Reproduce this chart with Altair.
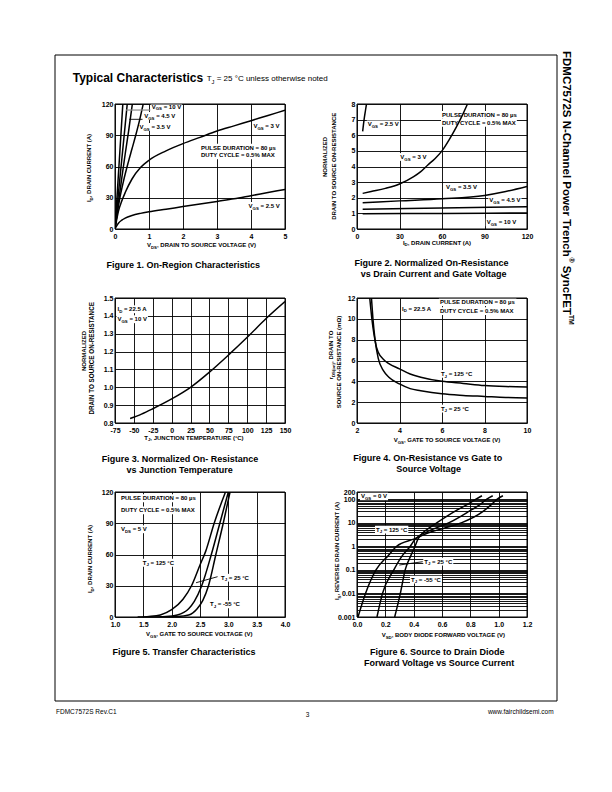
import altair as alt
import pandas as pd

FONT = "Liberation Sans"
PW, PH = 170, 125

# ---------------- Figure 1: On-Region Characteristics (VDS V, ID A) ----------------
f1_vgs10_v = [0, 0.05, 0.10, 0.15, 0.23]
f1_vgs10_i = [0, 26, 52, 78, 120]
f1_vgs6_v = [0, 0.10, 0.20, 0.30, 0.36]
f1_vgs6_i = [0, 34, 67, 100, 120]
f1_vgs45_v = [0, 0.10, 0.20, 0.30, 0.40, 0.51]
f1_vgs45_i = [0, 25, 49, 72, 94, 120]
f1_vgs35_v = [0, 0.05, 0.10, 0.15, 0.25, 0.39, 0.50, 0.61, 0.72, 0.83]
f1_vgs35_i = [0, 12, 22, 31, 46, 64, 77, 90, 104, 120]
f1_vgs3_v = [0, 0.05, 0.1, 0.2, 0.3, 0.5, 0.75, 1, 1.5, 2, 2.5, 3, 3.5, 4, 4.5, 5]
f1_vgs3_i = [0, 9, 17, 27, 35, 48, 59, 66, 75, 82, 88, 94, 99, 104, 109, 114]
f1_vgs25_v = [0, 0.05, 0.1, 0.2, 0.3, 0.5, 0.75, 1, 1.5, 2, 2.5, 3, 3.5, 4, 4.5, 5]
f1_vgs25_i = [0, 3, 5.5, 8.5, 10.5, 13, 15, 16.5, 19, 21.5, 24, 26.5, 29, 32, 35, 38]

# ---------------- Figure 2: Normalized RDS(on) vs ID ----------------
f2_vgs25_i = [4, 5, 6, 6.7]
f2_vgs25_r = [6.25, 7.0, 7.6, 8.0]
f2_vgs3_i = [4, 10, 20, 30, 40, 45, 50, 55, 60, 65, 70, 75, 78]
f2_vgs3_r = [2.28, 2.4, 2.6, 2.88, 3.35, 3.67, 4.1, 4.5, 5.0, 5.7, 6.5, 7.4, 8.0]
f2_vgs35_i = [4, 30, 60, 90, 105, 120]
f2_vgs35_r = [1.68, 1.8, 1.93, 2.15, 2.4, 2.72]
f2_vgs45_i = [4, 60, 120]
f2_vgs45_r = [1.27, 1.34, 1.42]
f2_vgs10_i = [4, 60, 120]
f2_vgs10_r = [0.98, 1.0, 1.03]

# ---------------- Figure 3: Normalized RDS(on) vs TJ ----------------
f3_tj = [-55, -40, -25, 0, 25, 50, 75, 100, 125, 150]
f3_r = [0.825, 0.85, 0.88, 0.935, 1.0, 1.085, 1.18, 1.28, 1.385, 1.48]

# ---------------- Figure 4: rDS(on) vs VGS (mOhm) ----------------
f4_t125_v = [2.6, 2.7, 2.8, 2.9, 3.0, 3.25, 3.5, 4, 4.5, 5, 6, 7, 8, 9, 10]
f4_t125_r = [12, 10, 8.5, 7.4, 6.8, 6.1, 5.7, 5.2, 4.7, 4.4, 4.0, 3.8, 3.6, 3.5, 3.45]
f4_t25_v = [2.68, 2.75, 2.85, 3.0, 3.25, 3.5, 4, 4.5, 5, 6, 7, 8, 9, 10]
f4_t25_r = [12, 10, 8, 6.2, 5.0, 4.4, 3.75, 3.3, 3.1, 2.8, 2.65, 2.55, 2.45, 2.4]

# ---------------- Figure 5: Transfer characteristics ----------------
f5_t125_v = [1.4, 1.6, 1.8, 2.0, 2.2, 2.35, 2.5, 2.6, 2.75, 2.95]
f5_t125_i = [0, 0.5, 2, 7, 17, 30, 50, 63, 90, 120]
f5_t25_v = [1.6, 1.9, 2.1, 2.3, 2.4, 2.53, 2.7, 2.85, 3.0]
f5_t25_i = [0, 0.5, 2, 8, 15, 30, 60, 90, 120]
f5_tm55_v = [1.8, 2.1, 2.3, 2.45, 2.55, 2.65, 2.78, 2.91, 3.03]
f5_tm55_i = [0, 0.5, 2, 8, 16, 30, 60, 90, 120]

# ---------------- Figure 6: Source to drain diode ----------------
f6_t125_v = [0.007, 0.06, 0.134, 0.22, 0.28, 0.40, 0.52, 0.62, 0.74, 0.89, 0.95, 0.99, 1.03]
f6_t125_i = [0.001, 0.01, 0.1, 0.4, 1, 2, 4, 6, 10, 30, 60, 100, 139]
f6_t25_v = [0.141, 0.18, 0.26, 0.32, 0.376, 0.41, 0.49, 0.56, 0.65, 0.79, 0.87, 0.916, 0.958]
f6_t25_i = [0.001, 0.01, 0.1, 0.4, 1, 2, 4, 6, 10, 30, 60, 100, 139]
f6_tm55_v = [0.266, 0.306, 0.34, 0.38, 0.41, 0.43, 0.47, 0.51, 0.565, 0.69, 0.78, 0.84, 0.882]
f6_tm55_i = [0.001, 0.01, 0.1, 0.4, 1, 2, 4, 6, 10, 30, 60, 100, 139]

# ---------------- tick values ----------------
f1_xticks = [0, 1, 2, 3, 4, 5]
f1_yticks = [0, 30, 60, 90, 120]
f2_xticks = [0, 30, 60, 90, 120]
f2_yticks = [0, 1, 2, 3, 4, 5, 6, 7, 8]
f3_xticks = [-75, -50, -25, 0, 25, 50, 75, 100, 125, 150]
f3_yticks = [0.8, 0.9, 1.0, 1.1, 1.2, 1.3, 1.4, 1.5]
f4_xticks = [2, 4, 6, 8, 10]
f4_yticks = [0, 2, 4, 6, 8, 10, 12]
f5_xticks = [1.0, 1.5, 2.0, 2.5, 3.0, 3.5, 4.0]
f5_yticks = [0, 30, 60, 90, 120]
f6_xticks = [0.0, 0.2, 0.4, 0.6, 0.8, 1.0, 1.2]
f6_ylabels = [0.001, 0.01, 0.1, 1, 10, 100, 200]
f6_ygrid = [round(m * 10.0 ** e, 6) for e in range(-3, 2) for m in range(1, 10)] + [100, 200]

# ---------------- text helpers ----------------
BOLD_W = {' ': 278, '!': 333, '%': 889, '(': 333, ')': 333, ',': 278, '-': 333, '.': 278,
          '/': 278, '=': 584, '°': 400, 'µ': 611, 'Ω': 768, '®': 737, '™': 1000}
for c in "0123456789":
    BOLD_W[c] = 556
BOLD_W.update(dict(zip("ABCDEFGHIJKLMNOPQRSTUVWXYZ",
                       [722, 722, 722, 722, 667, 611, 778, 722, 278, 556, 722, 611, 833, 722, 778,
                        667, 778, 722, 667, 611, 722, 667, 944, 667, 667, 611])))
BOLD_W.update(dict(zip("abcdefghijklmnopqrstuvwxyz",
                       [556, 611, 556, 611, 556, 333, 611, 611, 278, 278, 556, 278, 889, 611, 611,
                        611, 611, 389, 556, 333, 611, 556, 778, 556, 556, 500])))
REG_W = {' ': 278, '%': 889, '(': 333, ')': 333, ',': 278, '-': 333, '.': 278, '/': 278,
         '=': 584, '°': 400, 'µ': 556}
for c in "0123456789":
    REG_W[c] = 556
REG_W.update(dict(zip("ABCDEFGHIJKLMNOPQRSTUVWXYZ",
                      [667, 667, 722, 722, 667, 611, 778, 722, 278, 500, 667, 556, 833, 722, 778,
                       667, 778, 722, 667, 611, 722, 667, 944, 667, 667, 611])))
REG_W.update(dict(zip("abcdefghijklmnopqrstuvwxyz",
                      [556, 556, 500, 556, 556, 278, 556, 556, 222, 222, 500, 222, 833, 556, 556,
                       556, 556, 333, 500, 278, 556, 500, 722, 500, 500, 500])))

ONE = pd.DataFrame({"k": [0]})


def text_width(s, size, bold=True):
    table = BOLD_W if bold else REG_W
    return sum(table.get(c, 600) for c in s) / 1000.0 * size


def seg_layers(segs, x, y, size=6.0, anchor="left", angle=0, bold=True, box=False, pad=1.0):
    """Return (box_layers, text_layers) for a rich label made of segments.
    segs: list of (text, mode) with mode 'n' (normal), 'sub' or 'sup'."""
    items = []
    for t, m in segs:
        s = size if m == "n" else round(size * (0.72 if m == "sub" else 0.6), 2)
        items.append((t, m, s, text_width(t, s, bold)))
    total = sum(it[3] for it in items)
    start = {"left": 0.0, "center": -total / 2.0, "right": -total}[anchor]
    boxes, texts = [], []
    if box:
        h = size * 1.3
        boxes.append(
            alt.Chart(ONE).mark_rect(color="white", xOffset=round(start - pad, 2),
                                     x2Offset=round(start + total + pad, 2),
                                     yOffset=round(-h / 2, 2), y2Offset=round(h / 2, 2))
            .encode(x=dict(x), x2=dict(x), y=dict(y), y2=dict(y)))
    cur = start
    for t, m, s, w in items:
        stripped = t.lstrip(" ")
        lead = text_width(t[:len(t) - len(stripped)], s, bold)
        txt = stripped.rstrip(" ")
        if txt:
            if m == "n":
                dy = 0.0
            elif m == "sub":
                dy = size * 0.45
            else:
                dy = -size * 0.45
            texts.append(
                alt.Chart(ONE).mark_text(text=txt, align="left", baseline="middle",
                                         dx=round(cur + lead, 2), dy=round(dy, 2), fontSize=s,
                                         font=FONT, fontWeight="bold" if bold else "normal",
                                         angle=angle, color="black")
                .encode(x=dict(x), y=dict(y)))
        cur += w
    return boxes, texts


def VGS(v):
    return [("V", "n"), ("GS", "sub"), (" = " + v, "n")]


def TJ(v):
    return [("T", "n"), ("J", "sub"), (" = " + v, "n")]


def D(v):
    return alt.datum(v)


def P(v):
    return alt.value(v)


def lines_layer(series, xdom, ydom, xaxis, yaxis, ylog=False):
    rows = []
    for name, (xs, ys) in series.items():
        for a, b in zip(xs, ys):
            rows.append({"s": name, "x": a, "y": b})
    df = pd.DataFrame(rows)
    if ylog:
        ysc = alt.Scale(type="log", domain=ydom, nice=False)
    else:
        ysc = alt.Scale(domain=ydom, nice=False, zero=False)
    return alt.Chart(df).mark_line(color="black", strokeWidth=1.5, interpolate="monotone",
                                   clip=True).encode(
        x=alt.X("x:Q", scale=alt.Scale(domain=xdom, nice=False, zero=False), axis=xaxis),
        y=alt.Y("y:Q", scale=ysc, axis=yaxis),
        detail="s:N")


def axis(values, fmt=None, expr=None):
    kw = {"values": values, "title": None, "tickCount": 200}
    if fmt:
        kw["format"] = fmt
    if expr:
        kw["labelExpr"] = expr
    return alt.Axis(**kw)


def rule(x1, y1, x2, y2, color="black", w=0.9):
    return alt.Chart(ONE).mark_rule(color=color, strokeWidth=w).encode(
        x=D(x1), y=D(y1), x2=D(x2), y2=D(y2))


def frame():
    return alt.Chart(ONE).mark_rect(fill="white", fillOpacity=0, stroke="black",
                                    strokeWidth=1).encode(
        x=P(0), x2=P(PW), y=P(0), y2=P(PH))


def build_panel(line, labels, rules, extras):
    """labels: list of (segs, x, y, kwargs) drawn on white boxes; extras: plain text."""
    boxes, texts = [], []
    for segs, x, y, kw in labels:
        b, t = seg_layers(segs, x, y, box=True, **kw)
        boxes += b
        texts += t
    for segs, x, y, kw in extras:
        b, t = seg_layers(segs, x, y, **kw)
        boxes += b
        texts += t
    return boxes + [line] + rules + texts + [frame()]


CAP = dict(size=9, anchor="center")
XT = dict(size=6, anchor="center")
YT = dict(size=6, anchor="center", angle=270)

# ---------------- Panel 1 ----------------
line1 = lines_layer({"VGS=10V": (f1_vgs10_v, f1_vgs10_i), "VGS=6V": (f1_vgs6_v, f1_vgs6_i),
                     "VGS=4.5V": (f1_vgs45_v, f1_vgs45_i), "VGS=3.5V": (f1_vgs35_v, f1_vgs35_i),
                     "VGS=3V": (f1_vgs3_v, f1_vgs3_i), "VGS=2.5V": (f1_vgs25_v, f1_vgs25_i)},
                    [0, 5], [0, 120], axis(f1_xticks, "d"), axis(f1_yticks, "d"))
lab1 = [
    (VGS("10 V"), D(1.08), D(117.6), {}),
    (VGS("4.5 V"), D(0.86), D(108.5), {}),
    (VGS("3.5 V"), D(0.72), D(97.9), {}),
    (VGS("3 V"), D(4.07), D(98.9), {}),
    ([("PULSE DURATION = 80 µs", "n")], D(2.53), D(78.0), {}),
    ([("DUTY CYCLE = 0.5% MAX", "n")], D(2.53), D(70.8), {}),
    (VGS("2.5 V"), D(3.93), D(22.1), {}),
]
rules1 = [rule(0.32, 114.2, 1.04, 114.2, color="#8a8a8a", w=1.2),
          rule(0.42, 105.3, 0.81, 105.3)]
ext1 = [
    ([("V", "n"), ("DS", "sub"), (", DRAIN TO SOURCE VOLTAGE (V)", "n")], P(87), P(141), XT),
    ([("I", "n"), ("D", "sub"), (", DRAIN CURRENT (A)", "n")], P(-26), P(64), YT),
    ([("Figure 1.  On-Region Characteristics", "n")], P(69.5), P(160.5), CAP),
    # page decorations (positions relative to this panel's plot origin)
    ([("Typical Characteristics", "n")], P(-42.3), P(-26.3), dict(size=12)),
    ([("T", "n"), ("J", "sub"), (" = 25 °C unless otherwise noted", "n")], P(91.7), P(-25.2),
     dict(size=8, bold=False)),
    ([("FDMC7572S N-Channel Power Trench", "n"), ("®", "sup"), (" SyncFET", "n"), ("TM", "sup")],
     P(450.5), P(-53), dict(size=11.5, angle=90)),
    ([("FDMC7572S Rev.C1", "n")], P(-59), P(608), dict(size=6.5, bold=False)),
    ([("3", "n")], P(192.5), P(610.5), dict(size=6.5, bold=False, anchor="center")),
    ([("www.fairchildsemi.com", "n")], P(439), P(608), dict(size=6.5, bold=False, anchor="right")),
]
page_box = alt.Chart(ONE).mark_rect(fill="white", fillOpacity=0, stroke="black", strokeWidth=1).encode(
    x=P(-60), x2=P(442), y=P(-49), y2=P(597))
page_extent = alt.Chart(ONE).mark_rect(fill="white", opacity=0).encode(
    x=P(-106), x2=P(486), y=P(-95), y2=P(677))
p1 = alt.layer(*([page_extent] + build_panel(line1, lab1, rules1, ext1) + [page_box])).properties(
    width=PW, height=PH)

# ---------------- Panel 2 ----------------
line2 = lines_layer({"VGS=2.5V": (f2_vgs25_i, f2_vgs25_r), "VGS=3V": (f2_vgs3_i, f2_vgs3_r),
                     "VGS=3.5V": (f2_vgs35_i, f2_vgs35_r), "VGS=4.5V": (f2_vgs45_i, f2_vgs45_r),
                     "VGS=10V": (f2_vgs10_i, f2_vgs10_r)},
                    [0, 120], [0, 8], axis(f2_xticks, "d"), axis(f2_yticks, "d"))
lab2 = [
    (VGS("2.5 V"), D(7.6), D(6.7), {}),
    ([("PULSE DURATION = 80 µs", "n")], D(60), D(7.3), {}),
    ([("DUTY CYCLE = 0.5% MAX", "n")], D(60), D(6.8), {}),
    (VGS("3 V"), D(30.6), D(4.61), {}),
    (VGS("3.5 V"), D(62.8), D(2.69), {}),
    (VGS("4.5 V"), D(93.4), D(1.84), {}),
    (VGS("10 V"), D(91.6), D(0.43), {}),
]
ext2 = [
    ([("I", "n"), ("D", "sub"), (", DRAIN CURRENT (A)", "n")], P(80), P(138.5), XT),
    ([("NORMALIZED", "n")], P(-32), P(53), YT),
    ([("DRAIN TO SOURCE ON-RESISTANCE", "n")], P(-23), P(62), YT),
    ([("Figure 2. Normalized On-Resistance", "n")], P(74.5), P(159), CAP),
    ([("vs Drain Current and Gate Voltage", "n")], P(77), P(170), CAP),
]
p2 = alt.layer(*build_panel(line2, lab2, [], ext2)).properties(width=PW, height=PH)

# ---------------- Panel 3 ----------------
line3 = lines_layer({"ID=22.5A": (f3_tj, f3_r)}, [-75, 150], [0.8, 1.5],
                    axis(f3_xticks, expr="toString(datum.value)"), axis(f3_yticks, ".1f"))
lab3 = [
    ([("I", "n"), ("D", "sub"), (" = 22.5 A", "n")], D(-71.7), D(1.437), {}),
    (VGS("10 V"), D(-71.7), D(1.381), {}),
]
ext3 = [
    ([("T", "n"), ("J", "sub"), (", JUNCTION TEMPERATURE  (°C)", "n")], P(80), P(139.5), XT),
    ([("NORMALIZED", "n")], P(-30.7), P(53), YT),
    ([("DRAIN TO SOURCE ON-RESISTANCE", "n")], P(-23), P(60), dict(size=6.3, anchor="center", angle=270)),
    ([("Figure 3. Normalized On- Resistance", "n")], P(65), P(160.5), CAP),
    ([("vs Junction Temperature", "n")], P(65), P(171.5), CAP),
]
p3 = alt.layer(*build_panel(line3, lab3, [], ext3)).properties(width=PW, height=PH)

# ---------------- Panel 4 ----------------
line4 = lines_layer({"TJ=125C": (f4_t125_v, f4_t125_r), "TJ=25C": (f4_t25_v, f4_t25_r)},
                    [2, 10], [0, 12], axis(f4_xticks, "d"), axis(f4_yticks, "d"))
lab4 = [
    ([("I", "n"), ("D", "sub"), (" = 22.5 A", "n")], D(4.12), D(10.97), {}),
    ([("PULSE DURATION = 80 µs", "n")], D(5.9), D(11.6), {}),
    ([("DUTY CYCLE = 0.5% MAX", "n")], D(5.9), D(10.74), {}),
    (TJ("125 °C"), D(5.95), D(4.71), {}),
    (TJ("25 °C"), D(5.95), D(1.38), {}),
]
ext4 = [
    ([("V", "n"), ("GS", "sub"), (", GATE TO SOURCE VOLTAGE (V)", "n")], P(90.7), P(142), XT),
    ([("r", "n"), ("DS(on)", "sub"), (", DRAIN TO", "n")], P(-26), P(57), YT),
    ([("SOURCE ON-RESISTANCE  (mΩ)", "n")], P(-17.7), P(63), YT),
    ([("Figure 4.  On-Resistance vs Gate to", "n")], P(72), P(160.3), CAP),
    ([("Source Voltage", "n")], P(72), P(171), CAP),
]
p4 = alt.layer(*build_panel(line4, lab4, [], ext4)).properties(width=PW, height=PH)

# ---------------- Panel 5 ----------------
line5 = lines_layer({"TJ=125C": (f5_t125_v, f5_t125_i), "TJ=25C": (f5_t25_v, f5_t25_i),
                     "TJ=-55C": (f5_tm55_v, f5_tm55_i)},
                    [1, 4], [0, 120], axis(f5_xticks, ".1f"), axis(f5_yticks, "d"))
lab5 = [
    ([("PULSE DURATION = 80 µs", "n")], D(1.106), D(114), {}),
    ([("DUTY CYCLE = 0.5% MAX", "n")], D(1.106), D(102.4), {}),
    ([("V", "n"), ("DS", "sub"), (" = 5 V", "n")], D(1.106), D(84.2), {}),
    (TJ("125 °C"), D(1.49), D(52.1), {}),
    (TJ("25 °C"), D(2.87), D(37.7), {}),
    (TJ("-55 °C"), D(2.676), D(12.2), {}),
]
rules5 = [rule(2.43, 32.9, 2.81, 38.7)]
ext5 = [
    ([("V", "n"), ("GS", "sub"), (", GATE TO SOURCE VOLTAGE (V)", "n")], P(85), P(142.3), XT),
    ([("I", "n"), ("D", "sub"), (", DRAIN CURRENT (A)", "n")], P(-24.7), P(67), YT),
    ([("Figure 5.  Transfer Characteristics", "n")], P(70.5), P(160), CAP),
]
p5 = alt.layer(*build_panel(line5, lab5, rules5, ext5)).properties(width=PW, height=PH)

# ---------------- Panel 6 ----------------
f6_expr = "indexof(" + str(f6_ylabels) + ", datum.value) >= 0 ? datum.label : ''"
line6 = lines_layer({"TJ=125C": (f6_t125_v, f6_t125_i), "TJ=25C": (f6_t25_v, f6_t25_i),
                     "TJ=-55C": (f6_tm55_v, f6_tm55_i)},
                    [0, 1.2], [0.001, 200], axis(f6_xticks, ".1f"),
                    axis(f6_ygrid, "~g", f6_expr), ylog=True)
lab6 = [
    (VGS("0 V"), D(0.028), D(131.5), {}),
    (TJ("125 °C"), D(0.134), D(5.03), {}),
    (TJ("25 °C"), D(0.475), D(0.221), {}),
    (TJ("-55 °C"), D(0.381), D(0.0382), {}),
]
rules6 = [rule(0.2986, 0.160, 0.464, 0.221)]
ext6 = [
    ([("V", "n"), ("SD", "sub"), (", BODY DIODE FORWARD VOLTAGE (V)", "n")], P(87), P(143), XT),
    ([("I", "n"), ("S", "sub"), (", REVERSE DRAIN CURRENT (A)", "n")], P(-20), P(59), YT),
    ([("Figure 6.  Source to Drain Diode", "n")], P(81.5), P(160), CAP),
    ([("Forward Voltage vs Source Current", "n")], P(82.5), P(171), CAP),
]
p6 = alt.layer(*build_panel(line6, lab6, rules6, ext6)).properties(width=PW, height=PH)

chart = alt.concat(p1, p2, p3, p4, p5, p6, columns=2,
                   spacing={"row": 69, "column": 72}, bounds="flush").properties(
    padding=0
).configure_view(stroke="transparent").configure_axis(
    grid=True, gridColor="black", gridWidth=0.9, gridOpacity=1, ticks=False, domain=False,
    labelFont=FONT, labelFontSize=7, labelFontWeight="bold", labelColor="black",
    labelFlush=False, labelOverlap=False
).configure_axisX(labelPadding=3.5).configure_axisY(labelPadding=2)

chart.save("out.html", embed_options={"renderer": "svg", "actions": False})
